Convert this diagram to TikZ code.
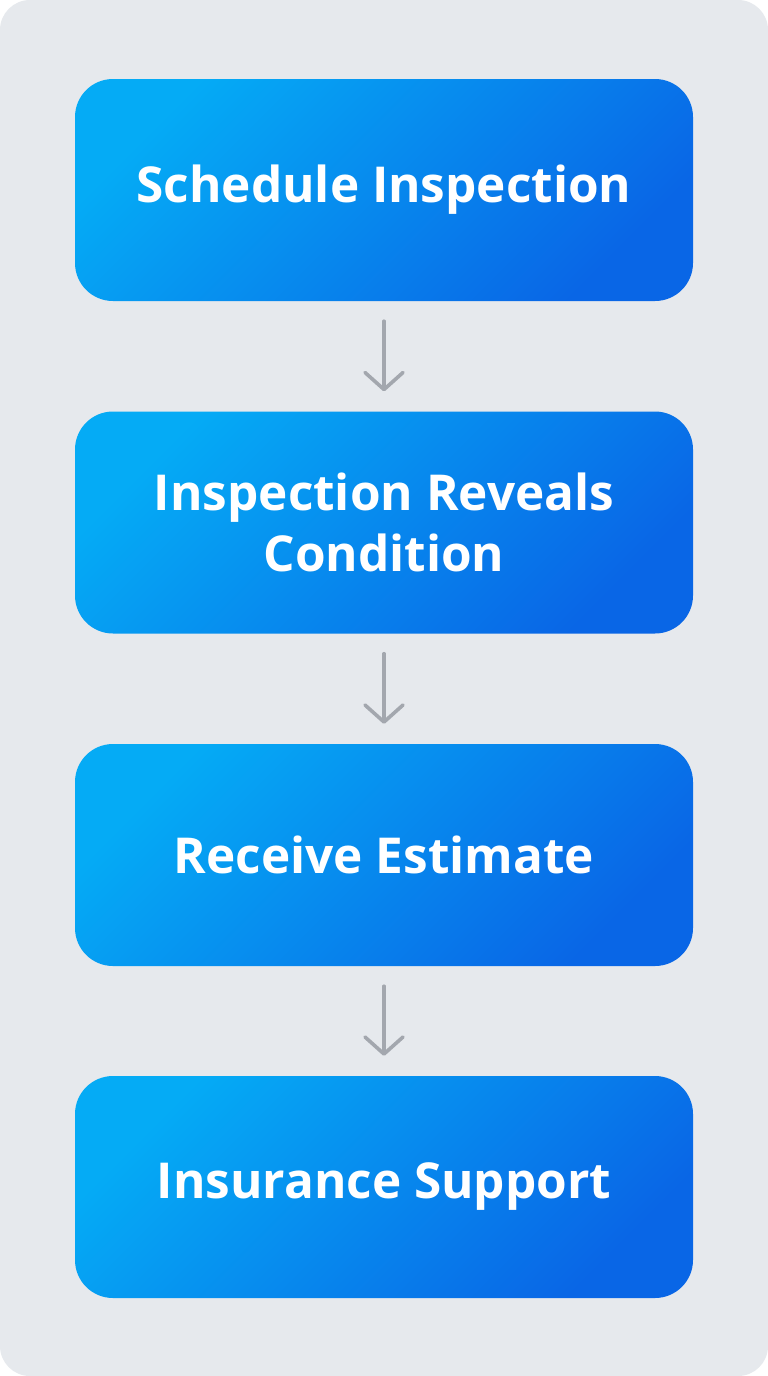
\documentclass[tikz,border=0pt]{standalone}
\usepackage{fontspec}
\setmainfont{Open Sans}
\usetikzlibrary{arrows.meta}
\definecolor{bgpanel}{HTML}{E6E9ED}
\definecolor{boxlight}{HTML}{05ABF5}
\definecolor{boxdark}{HTML}{0966E6}
\definecolor{arrowgray}{HTML}{A3A7AE}

\tikzset{
  stepbox/.style={rounded corners=38pt, minimum width=618pt, minimum height=222pt,
    top color=boxlight, bottom color=boxdark, shading angle=45,
    text=white, font=\fontsize{49.5}{61}\selectfont\bfseries, align=center},
  flowarrow/.style={arrowgray, line width=3.6pt, line cap=round,
    -{Straight Barb[length=17pt, width=38pt, line cap=round, round]},
    shorten <=20pt, shorten >=20pt}
}

\begin{document}
\begin{tikzpicture}[x=1pt,y=-1pt]
\useasboundingbox (0,0) rectangle (768,1376);
\fill [white] (0,0) rectangle (768,1376);
\fill [bgpanel, rounded corners=30pt] (0,0) rectangle (768,1376);

\node [stepbox] (s1) at (384,190) {Schedule Inspection};
\node [stepbox] (s2) at (384,522.5) {Inspection Reveals\\Condition};
\node [stepbox] (s3) at (384,855) {Receive Estimate};
\node [stepbox] (s4) at (384,1187) {Insurance Support};

\draw [flowarrow] (s1) -- (s2);
\draw [flowarrow] (s2) -- (s3);
\draw [flowarrow] (s3) -- (s4);

\end{tikzpicture}
\end{document}
